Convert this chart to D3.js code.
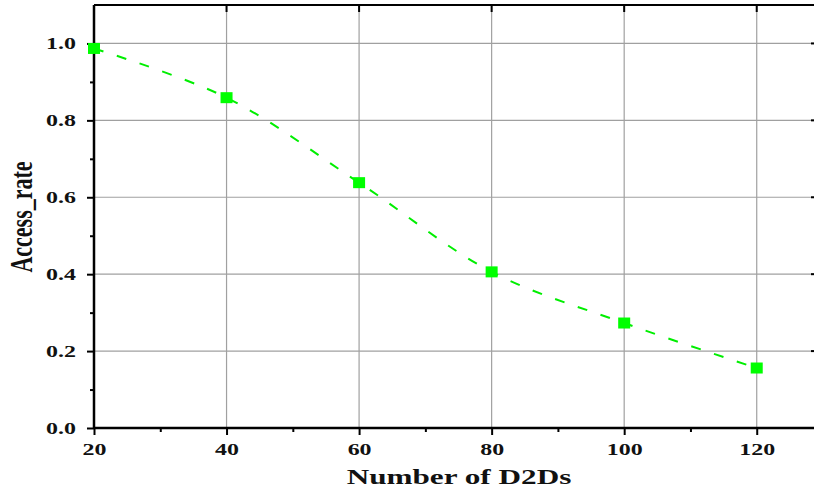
<!DOCTYPE html>
<html><head><meta charset="utf-8">
<script src="https://cdn.jsdelivr.net/npm/d3@7"></script>
<style>body{margin:0;background:#fff}</style>
</head><body>
<script>
const xValues = [20, 40, 60, 80, 100, 120];
const accessRate = [0.987, 0.859, 0.638, 0.406, 0.273, 0.156];
const xTicks = [20, 40, 60, 80, 100, 120];
const yTicks = [0.0, 0.2, 0.4, 0.6, 0.8, 1.0];
const xLabel = "Number of D2Ds";
const yLabel = "Access_rate";

const W = 814, H = 497;
const STRETCH = 1.45;
const svg = d3.select("body").append("svg").attr("width", W).attr("height", H);
const x = d3.scaleLinear().domain([20, 130]).range([94, 823]);
const y = d3.scaleLinear().domain([0, 1.1]).range([428, 5]);
const font = "'Liberation Serif','Times New Roman',serif";

function stretch(sel) {
  sel.each(function() {
    const len = this.getComputedTextLength();
    d3.select(this).attr("textLength", len * STRETCH).attr("lengthAdjust", "spacingAndGlyphs");
  });
}

// grid
svg.append("g").selectAll("line").data(xTicks.slice(1)).join("line")
  .attr("x1", d => x(d)).attr("x2", d => x(d)).attr("y1", y(0)).attr("y2", y(1.1))
  .attr("stroke", "#a0a0a0").attr("stroke-width", 1.2);
svg.append("g").selectAll("line").data(yTicks.slice(1)).join("line")
  .attr("x1", x(20)).attr("x2", W).attr("y1", d => y(d)).attr("y2", d => y(d))
  .attr("stroke", "#a0a0a0").attr("stroke-width", 1.2);

// top border with inward ticks
svg.append("line").attr("x1", x(20)).attr("x2", W).attr("y1", y(1.1)).attr("y2", y(1.1))
  .attr("stroke", "#000").attr("stroke-width", 2);
svg.append("g").selectAll("line").data(xTicks).join("line")
  .attr("x1", d => x(d)).attr("x2", d => x(d)).attr("y1", y(1.1)).attr("y2", y(1.1) + 7)
  .attr("stroke", "#000").attr("stroke-width", 2);
// right side minor marks
svg.append("g").selectAll("line").data(yTicks.slice(1)).join("line")
  .attr("x1", W - 3).attr("x2", W).attr("y1", d => y(d)).attr("y2", d => y(d))
  .attr("stroke", "#000").attr("stroke-width", 2);

// axes
const xAxis = d3.axisBottom(x).tickValues(xTicks).tickFormat(d3.format("d")).tickSize(7).tickPadding(8);
const gx = svg.append("g").attr("transform", `translate(0,${y(0)})`).call(xAxis);
gx.select(".domain").attr("stroke-width", 2.5).attr("d", `M${x(20)},0H${W}`);
gx.selectAll(".tick line").attr("stroke-width", 2);
gx.selectAll("text").attr("font-family", font).attr("font-weight", "bold").attr("font-size", 16.5).attr("fill", "#111").call(stretch);
const xMinor = d3.axisBottom(x).tickValues([30, 50, 70, 90, 110, 130]).tickSize(4).tickFormat("");
const gxm = svg.append("g").attr("transform", `translate(0,${y(0)})`).call(xMinor);
gxm.select(".domain").remove();
gxm.selectAll(".tick line").attr("stroke-width", 2);

const yAxis = d3.axisLeft(y).tickValues(yTicks).tickFormat(d3.format(".1f")).tickSize(7).tickPadding(11);
const gy = svg.append("g").attr("transform", `translate(${x(20)},0)`).call(yAxis);
gy.select(".domain").attr("stroke-width", 2.5).attr("d", `M0,${y(0)}V${y(1.1)}`);
gy.selectAll(".tick line").attr("stroke-width", 2);
gy.selectAll("text").attr("font-family", font).attr("font-weight", "bold").attr("font-size", 16.5).attr("fill", "#111").call(stretch);
const yMinor = d3.axisLeft(y).tickValues([0.1, 0.3, 0.5, 0.7, 0.9]).tickSize(4).tickFormat("");
const gym = svg.append("g").attr("transform", `translate(${x(20)},0)`).call(yMinor);
gym.select(".domain").remove();
gym.selectAll(".tick line").attr("stroke-width", 2);

// line
const data = xValues.map((v, i) => [v, accessRate[i]]);
svg.append("path").datum(data)
  .attr("d", d3.line().x(d => x(d[0])).y(d => y(d[1])).curve(d3.curveCatmullRom))
  .attr("fill", "none").attr("stroke", "#00ee00").attr("stroke-width", 2)
  .attr("stroke-dasharray", "10,14");
svg.append("g").selectAll("rect").data(data).join("rect")
  .attr("x", d => x(d[0]) - 6).attr("y", d => y(d[1]) - 5.5)
  .attr("width", 12).attr("height", 11).attr("fill", "#00ff00");

// labels
svg.append("text").attr("x", 459).attr("y", 484).attr("text-anchor", "middle")
  .attr("font-family", font).attr("font-weight", "bold").attr("font-size", 21.5).attr("fill", "#111")
  .text(xLabel).call(stretch);
svg.append("text").attr("transform", `translate(32,217) scale(${STRETCH},1) rotate(-90)`).attr("text-anchor", "middle")
  .attr("font-family", font).attr("font-weight", "bold").attr("font-size", 22).attr("fill", "#111")
  .text(yLabel);
</script>
</body></html>
